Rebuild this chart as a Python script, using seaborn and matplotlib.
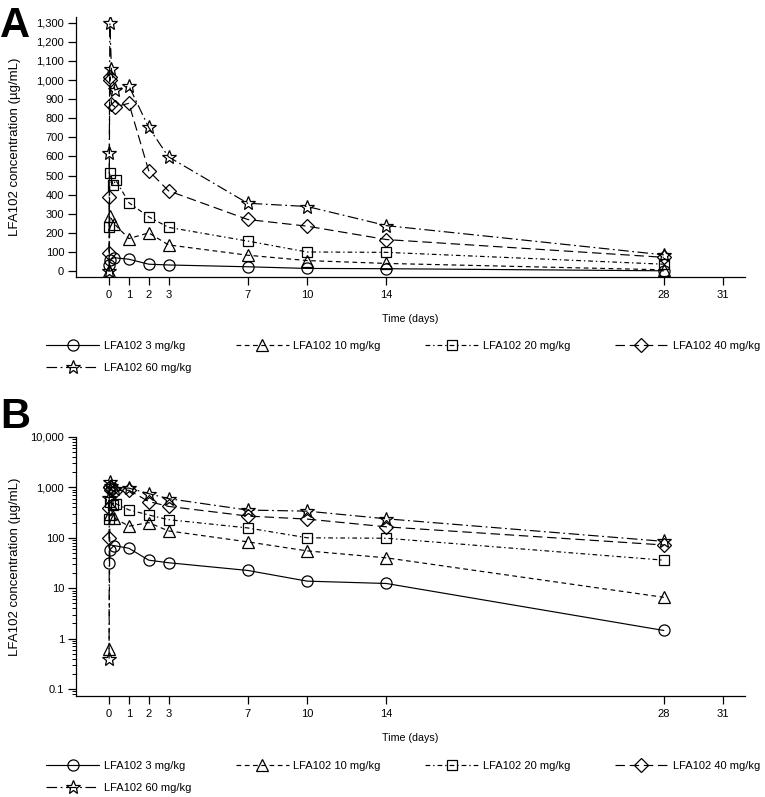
import matplotlib
matplotlib.use("Agg")
import matplotlib.pyplot as plt
import seaborn as sns
import numpy as np
import pandas as pd
from matplotlib.ticker import FixedLocator, FuncFormatter, LogLocator, NullFormatter

sns.set_theme(style="ticks")
plt.rcParams["font.family"] = ["Liberation Sans", "DejaVu Sans"]
plt.rcParams["text.color"] = "black"
plt.rcParams["axes.labelcolor"] = "black"
plt.rcParams["xtick.color"] = "black"
plt.rcParams["ytick.color"] = "black"
plt.rcParams["axes.edgecolor"] = "black"

# ---- data (time in days, concentration in ug/mL) ----
dose_labels = ["LFA102 3 mg/kg", "LFA102 10 mg/kg", "LFA102 20 mg/kg",
               "LFA102 40 mg/kg", "LFA102 60 mg/kg"]

t_3 = [0.02, 0.04, 0.25, 1, 2, 3, 7, 10, 14, 28]
c_3 = [31, 58, 70, 62, 36, 32, 22.5, 13.8, 12.4, 1.45]

t_10 = [0, 0.04, 0.25, 1, 2, 3, 7, 10, 14, 28]
c_10 = [0.62, 290, 248, 170, 200, 137, 83, 55, 40, 6.6]

t_20 = [0.01, 0.04, 0.2, 0.34, 1, 2, 3, 7, 10, 14, 28]
c_20 = [232, 511, 450, 476, 358, 284, 229, 157, 100, 98, 36]

t_40 = [0, 0.01, 0.03, 0.05, 0.12, 0.29, 1, 2, 3, 7, 10, 14, 28]
c_40 = [97, 390, 1000, 1017, 874, 860, 878, 525, 420, 270, 235, 165, 72]

t_60 = [0, 0.01, 0.04, 0.12, 0.29, 1, 2, 3, 7, 10, 14, 28]
c_60 = [0.4, 616, 1297, 1056, 948, 969, 752, 598, 355, 338, 238, 85]

x_ticks = [0, 1, 2, 3, 7, 10, 14, 28, 31]
yA_ticks = list(range(0, 1301, 100))
yB_ticks = [0.1, 1, 10, 100, 1000, 10000]

series_t = [t_3, t_10, t_20, t_40, t_60]
series_c = [c_3, c_10, c_20, c_40, c_60]

markers = ["o", "^", "s", "D", "*"]
msizes = [8, 8.5, 7.5, 7, 10]
lstyles = ["-", (0, (4, 3)), (0, (4, 2.5, 1.2, 2.5)), (0, (8, 4)), (0, (9, 3, 1.5, 3))]

W, H = 765, 797
fig = plt.figure(figsize=(W / 100, H / 100), dpi=100)

def frac_axes(left, top, right, bottom):
    return fig.add_axes([left / W, 1 - bottom / H, (right - left) / W, (bottom - top) / H])

axA = frac_axes(76, 17, 745, 277)
axB = frac_axes(76, 437, 745, 696)

fs = 8
for ax, logy in [(axA, False), (axB, True)]:
    for i in range(5):
        df = pd.DataFrame({"time": series_t[i], "conc": series_c[i]})
        sns.lineplot(data=df, x="time", y="conc", ax=ax, color="black",
                     estimator=None, sort=False, linewidth=0.85,
                     linestyle=lstyles[i], marker=markers[i], markersize=msizes[i],
                     markerfacecolor="none", markeredgecolor="black",
                     markeredgewidth=0.9, label=dose_labels[i], legend=False)
    ax.set_xlim(-1.67, 32.1)
    ax.xaxis.set_major_locator(FixedLocator(x_ticks))
    ax.set_xticklabels([str(v) for v in x_ticks])
    if logy:
        ax.set_yscale("log")
        ax.set_ylim(10 ** (-1 - 7 / 50.4), 1e4)
        ax.yaxis.set_major_locator(FixedLocator(yB_ticks))
        ax.yaxis.set_major_formatter(FuncFormatter(
            lambda v, p: "0.1" if v < 1 else f"{v:,.0f}"))
        ax.yaxis.set_minor_locator(LogLocator(base=10, subs=np.arange(2, 10)))
        ax.yaxis.set_minor_formatter(NullFormatter())
        ax.tick_params(axis="y", which="minor", length=3, width=0.7, direction="out")
    else:
        ax.set_ylim(-31, 1330)
        ax.yaxis.set_major_locator(FixedLocator(yA_ticks))
        ax.yaxis.set_major_formatter(FuncFormatter(lambda v, p: f"{v:,.0f}"))
    ax.tick_params(axis="both", which="major", labelsize=fs, length=6, width=0.9,
                   direction="out", pad=2.5)
    ax.tick_params(axis="x", pad=3.5)
    for s in ["top", "right"]:
        ax.spines[s].set_visible(False)
    for s in ["left", "bottom"]:
        ax.spines[s].set_linewidth(0.9)
    ax.set_xlabel("Time (days)", fontsize=7.7, labelpad=10)
    ax.set_ylabel("LFA102 concentration (µg/mL)", fontsize=9.5)
    ax.yaxis.set_label_coords((21 - 76) / 669, 0.5)
    ax.set_facecolor("white")

    handles, labels = ax.get_legend_handles_labels()
    order = [0, 4, 1, 2, 3]
    h = [handles[k] for k in order]
    l = [labels[k] for k in order]
    top_px = 341 if ax is axA else 761
    ax.legend(h, l, loc="upper left", bbox_to_anchor=(46 / W, 1 - top_px / H),
              bbox_transform=fig.transFigure, ncol=4, frameon=False, fontsize=fs,
              handlelength=4.8, handletextpad=0.4, columnspacing=4.0,
              borderpad=0, borderaxespad=0, labelspacing=1.05)

fig.text(0 / W, 1 - 37 / H, "A", fontsize=30, fontweight="bold", ha="left", va="baseline")
fig.text(0 / W, 1 - 428 / H, "B", fontsize=30, fontweight="bold", ha="left", va="baseline")

fig.savefig("out.png", dpi=100, facecolor="white")
